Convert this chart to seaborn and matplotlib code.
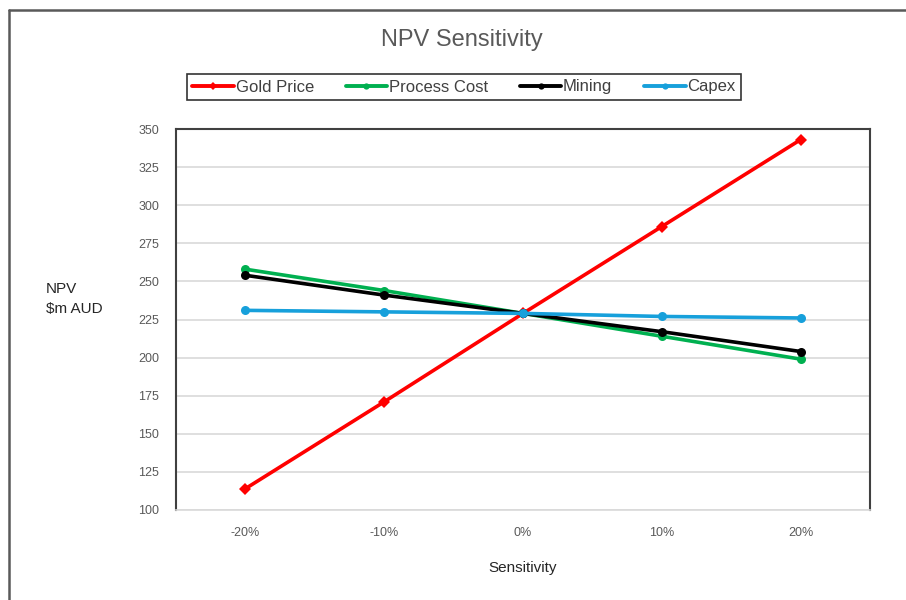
import numpy as np
import pandas as pd
import matplotlib.pyplot as plt
import seaborn as sns
from matplotlib.lines import Line2D

# --- Data ---
sensitivity = ["-20%", "-10%", "0%", "10%", "20%"]
gold_price = [114, 171, 229, 286, 343]
process_cost = [258, 244, 229, 214, 199]
mining = [254, 241, 229, 217, 204]
capex = [231, 230, 229, 227, 226]

series_names = ["Gold Price", "Process Cost", "Mining", "Capex"]
colors = ["#ff0000", "#00b050", "#000000", "#17a0db"]

df = pd.DataFrame({
    "Sensitivity": sensitivity * 4,
    "NPV": gold_price + process_cost + mining + capex,
    "Series": np.repeat(series_names, len(sensitivity)),
})

sns.set_style("white")
plt.rcParams["font.family"] = ["Liberation Sans", "DejaVu Sans"]

fig = plt.figure(figsize=(9.06, 6.0), dpi=100)
ax = fig.add_axes([176 / 906, 90 / 600, 694 / 906, 381 / 600])

sns.lineplot(data=df, x="Sensitivity", y="NPV", hue="Series",
             style="Series", markers=["D", "o", "o", "o"], dashes=False,
             palette=colors, linewidth=2.6, markersize=6.5,
             markeredgewidth=0, sort=False, legend=False, ax=ax)

ax.set_xlim(-0.5, 4.5)
ax.set_ylim(100, 350)
ax.set_yticks(range(100, 351, 25))
ax.grid(axis="y", color="#d9d9d9", linewidth=1.2)
ax.grid(axis="x", visible=False)
ax.set_axisbelow(True)

ax.set_xticks(range(len(sensitivity)))
ax.set_xticklabels(sensitivity)
ax.set_xticks(np.arange(-0.5, 4.6, 1), minor=True)
ax.tick_params(axis="x", which="major", length=0, pad=12,
               labelsize=9, labelcolor="#595959")
ax.tick_params(axis="x", which="minor", length=4, color="#d0d0d0", width=1)
ax.tick_params(axis="y", length=0, pad=12, labelsize=9, labelcolor="#595959")

for side in ["left", "top", "right"]:
    ax.spines[side].set_color("#404040")
    ax.spines[side].set_linewidth(1.5)
ax.spines["bottom"].set_color("#d9d9d9")
ax.spines["bottom"].set_linewidth(1.2)

ax.set_xlabel("Sensitivity", fontsize=11, color="#262626", labelpad=16)
ax.set_ylabel("")
fig.text(46 / 906, 1 - 299 / 600, "NPV\n$m AUD", fontsize=11, color="#262626",
         ha="left", va="center", linespacing=1.6)

fig.text(462 / 906, 1 - 40 / 600, "NPV Sensitivity", fontsize=17,
         color="#595959", ha="center", va="center")

handles = [Line2D([0], [0], color=c, linewidth=2.8,
                  marker="D" if n == "Gold Price" else "o", markersize=4.5,
                  markeredgewidth=0)
           for n, c in zip(series_names, colors)]
leg = fig.legend(handles, series_names, loc="center",
                 bbox_to_anchor=(464 / 906, 1 - 87 / 600), ncol=4,
                 frameon=True, fancybox=False, fontsize=12,
                 handlelength=2.5, handletextpad=0.1, columnspacing=1.9,
                 borderpad=0.35, borderaxespad=0)
leg.get_frame().set_edgecolor("#000000")
leg.get_frame().set_linewidth(1.2)
for t in leg.get_texts():
    t.set_color("#404040")

# outer chart border (top and left visible)
fig.add_artist(Line2D([9 / 906, 9 / 906], [0, 1 - 10 / 600],
                      transform=fig.transFigure, color="#595959", linewidth=1.8))
fig.add_artist(Line2D([9 / 906, 1], [1 - 10 / 600, 1 - 10 / 600],
                      transform=fig.transFigure, color="#595959", linewidth=1.8))

plt.savefig("out.png", dpi=100)
plt.close()
